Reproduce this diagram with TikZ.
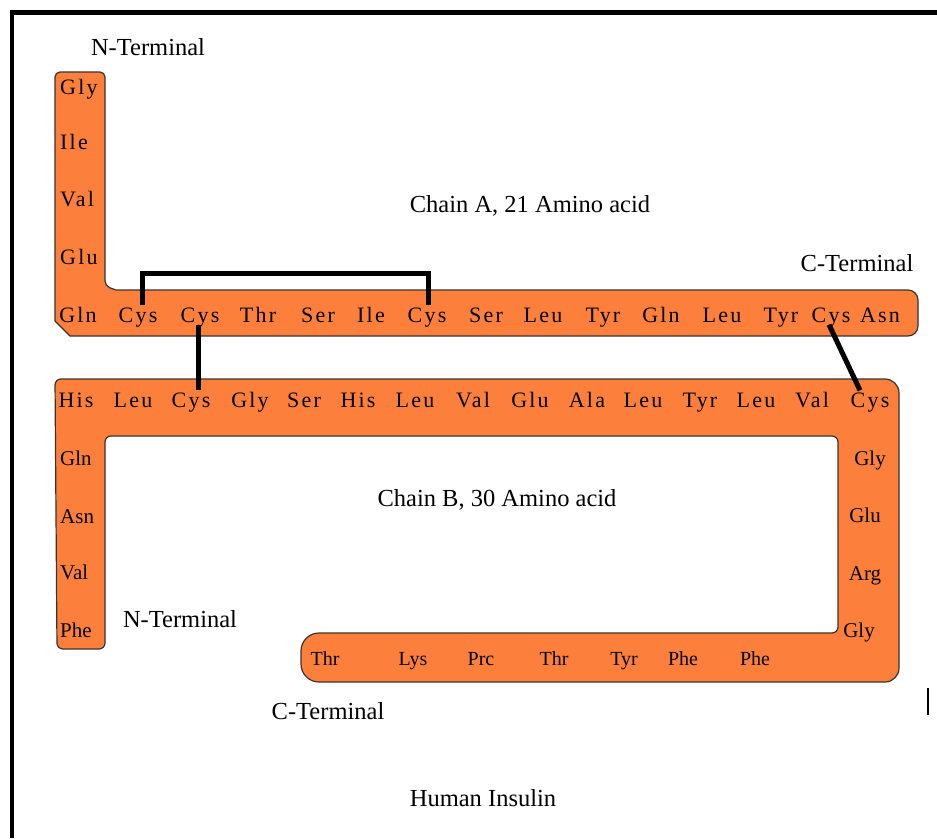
\documentclass[tikz,border=0pt]{standalone}
\usepackage{fontspec}
\setmainfont{Liberation Serif}
\newfontfamily\spacedfont[LetterSpace=10]{Liberation Serif}
\usetikzlibrary{calc}

\definecolor{chainorange}{RGB}{252,128,60}
\definecolor{chainedge}{RGB}{60,50,45}

\tikzset{
  chainband/.style={fill=chainorange, draw=chainedge, line width=1.2pt},
  acid/.style={inner sep=2pt, text height=15pt, text depth=0pt, font=\fontsize{21}{24}\selectfont},
  wideacid/.style={acid, font=\spacedfont\fontsize{22}{24}\selectfont},
  smallacid/.style={acid, font=\fontsize{20}{24}\selectfont},
  caption/.style={inner sep=0pt, text height=16pt, text depth=0pt, font=\fontsize{24.5}{28}\selectfont},
  bond/.style={line width=5pt}
}

\begin{document}
\begin{tikzpicture}[x=1pt, y=-1pt]
  \useasboundingbox (0,0) rectangle (937,838);

  % frame
  \draw [line width=4.5pt] (12,838) -- (12,12.5) -- (937,12.5);
  \draw [line width=2pt] (928,688) -- (928,715);

  % chain A band
  \draw [chainband] [rounded corners=5pt] (55,72) -- (105,72) -- (105,286)
    [sharp corners] -- (116,290) [rounded corners=10pt] -- (918,290) -- (918,336)
    [sharp corners] -- (70,336) -- (55,321) [rounded corners=5pt] -- cycle;

  % chain B band
  \draw [chainband] [rounded corners=6pt] (55,379) [rounded corners=14pt] -- (899,379) -- (899,682)
    [rounded corners=18pt] -- (301,682) -- (301,633) [rounded corners=6pt] -- (838,633) -- (838,436)
    -- (105,436) -- (105,649) -- (57,649) -- cycle;

  % chain A
  \foreach \name/\y [count=\i] in {Gly/87, Ile/142, Val/199, Glu/257}
    \node [wideacid, anchor=west] (a\i) at (58,\y) {\name};
  \foreach \name/\x [count=\i from 5] in {Gln/78, Cys/138, Cys/200, Thr/258, Ser/318, Ile/371,
      Cys/427, Ser/486, Leu/543, Tyr/603, Gln/661, Leu/722, Tyr/781, Cys/831, Asn/880}
    \node [wideacid] (a\i) at (\x,315) {\name};

  % chain B
  \foreach \name/\y [count=\i] in {Phe/630, Val/572, Asn/516, Gln/458}
    \node [acid, anchor=west] (b\i) at (58,\y) {\name};
  \foreach \name/\x [count=\i from 5] in {His/76, Leu/133, Cys/191, Gly/250, Ser/304, His/358,
      Leu/415, Val/473, Glu/530, Ala/587, Leu/643, Tyr/700, Leu/756, Val/812, Cys/870}
    \node [wideacid] (b\i) at (\x,400) {\name};
  \foreach \name/\x/\y [count=\i from 20] in {Gly/870/458, Glu/865/515, Arg/865/573, Gly/859/630}
    \node [acid] (b\i) at (\x,\y) {\name};
  \foreach \name/\x [count=\i from 24] in {Phe/755, Phe/683, Tyr/624, Thr/554, Prc/481, Lys/413, Thr/325}
    \node [smallacid] (b\i) at (\x,658) {\name};

  % disulfide bridges
  \draw [bond] ([xshift=4pt]a6.north) -- ++(0,-32) -| ([xshift=1pt]a11.north);
  \draw [bond] ([xshift=-2pt]a7.south) -- ([xshift=-2pt]a7.south |- b7.north);
  \draw [bond] ([xshift=-2pt]a18.south) -- ([xshift=-10pt]b19.north);

  \node [caption] (ntermA) at (148,47) {N-Terminal};
  \node [caption] (titleA) at (530,204) {Chain A, 21 Amino acid};
  \node [caption] (ctermA) at (857,263) {C-Terminal};
  \node [caption] (titleB) at (497,498) {Chain B, 30 Amino acid};
  \node [caption] (ntermB) at (180,619) {N-Terminal};
  \node [caption] (ctermB) at (328,711) {C-Terminal};
  \node [caption] (insulin) at (483,798) {Human Insulin};
\end{tikzpicture}
\end{document}
